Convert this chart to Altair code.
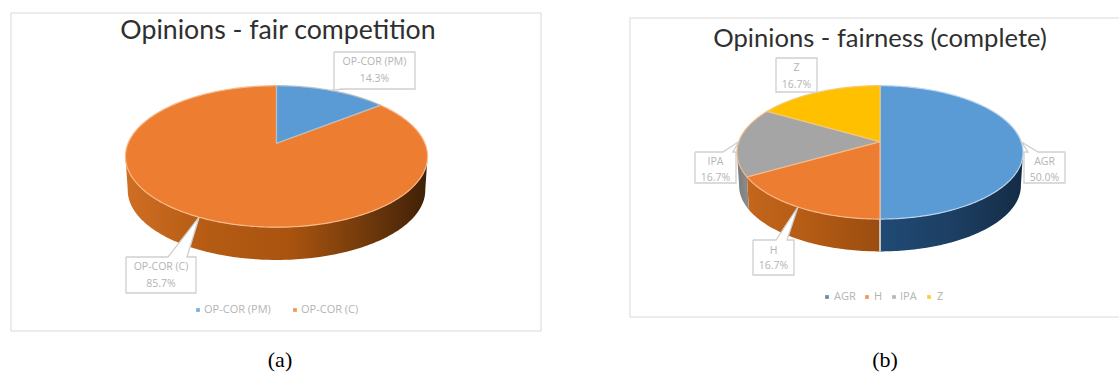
import math
import altair as alt
import pandas as pd

# Survey shares behind each pie
comp_labels = ["OP-COR (PM)", "OP-COR (C)"]
comp_values = [14.3, 85.7]
fair_labels = ["AGR", "H", "IPA", "Z"]
fair_values = [50.0, 16.7, 16.7, 16.6]
fair_texts = ["50.0%", "16.7%", "16.7%", "16.7%"]
comp_texts = ["14.3%", "85.7%"]

BLUE, ORANGE, GREY, GOLD = "#5b9bd5", "#ed7d31", "#a5a5a5", "#ffc000"
LABEL_GREY = "#b4b4b4"
BORDER = "#e6e6e6"
CALLOUT = "#cfcfcf"
TITLE_FONT = "Lato"

X = alt.X("x:Q", scale=alt.Scale(domain=[0, 1119], range=[0, 1119], nice=False, zero=False), axis=None)
Y = alt.Y("y:Q", scale=alt.Scale(domain=[0, 374], range=[0, 374], nice=False, zero=False), axis=None)


def gradient(stops):
    return alt.Gradient(
        gradient="linear", x1=0, y1=0, x2=1, y2=0,
        stops=[alt.GradientStop(offset=o, color=c) for o, c in stops],
    )


def polygon(points, **style):
    """A filled outline drawn in the order of its points."""
    frame = pd.DataFrame(
        [{"i": i, "x": p[0], "y": p[1]} for i, p in enumerate(points)]
    )
    return alt.Chart(frame).mark_line(interpolate="linear", **style).encode(
        x=X, y=Y, order="i:Q"
    )


def text(x, y, label, **style):
    frame = pd.DataFrame([{"x": x, "y": y, "label": label}])
    return alt.Chart(frame).mark_text(**style).encode(x=X, y=Y, text="label:N")


class Pie:
    """Tilted pie: a circle seen in perspective, with a rim of fixed depth."""

    def __init__(self, cx, cy, rx, ry, k, depth):
        self.cx, self.cy, self.rx, self.ry, self.k, self.depth = cx, cy, rx, ry, k, depth

    def rim(self, deg, low=False):
        t = math.radians(deg)
        u, v = math.sin(t), math.cos(t)
        w = 1 + self.k * v
        shrink = 0.985 if low else 1.0
        x = self.cx + self.rx * shrink * u / w
        y = self.cy - self.ry * shrink * v / w
        return (x, y + self.depth) if low else (x, y)

    def sweep(self, a, b):
        n = max(2, int(abs(b - a)) + 1)
        return [a + (b - a) * i / (n - 1) for i in range(n)]

    def edges(self):
        angles = [i * 0.5 for i in range(0, 721)]
        xs = [self.rim(a)[0] for a in angles]
        return angles[xs.index(max(xs))], angles[xs.index(min(xs))]

    def wall(self, a, b, fill):
        right, left = self.edges()
        a, b = max(a, right), min(b, left)
        if b <= a:
            return []
        top = [self.rim(t) for t in self.sweep(a, b)]
        low = [self.rim(t, True) for t in self.sweep(b, a)]
        return [polygon(top + low, fill=fill, strokeWidth=0, stroke="transparent")]

    def sector(self, a, b, fill, edge):
        pts = [(self.cx, self.cy)] + [self.rim(t) for t in self.sweep(a, b)] + [(self.cx, self.cy)]
        return polygon(pts, fill=fill, stroke=edge, strokeWidth=1.2)

    def mid(self, a, b):
        return self.rim((a + b) / 2)


def spans(values):
    total = sum(values)
    out, run = [], 0.0
    for v in values:
        out.append((run, run + v / total * 360))
        run += v / total * 360
    return out


def callout(box, tip, base, side, lines, size=10.5):
    """Data-label box with a pointer running out to the slice rim."""
    x0, y0, x1, y1 = box
    if side == "top":
        pts = [(x0, y0), (base[0], y0), tip, (base[1], y0), (x1, y0), (x1, y1), (x0, y1), (x0, y0)]
    else:
        pts = [(x0, y0), (x1, y0), (x1, y1), (base[1], y1), tip, (base[0], y1), (x0, y1), (x0, y0)]
    layers = [polygon(pts, fill="white", stroke=CALLOUT, strokeWidth=1.3)]
    mid = (x0 + x1) / 2
    for (line, ly) in lines:
        layers.append(text(mid, ly, line, fontSize=size, color=LABEL_GREY, font="Open Sans", align="center", baseline="middle"))
    return layers


def legend(y, entries):
    layers = []
    for mx, tx, label, colour in entries:
        marker = pd.DataFrame([{"x": mx, "y": y}])
        layers.append(
            alt.Chart(marker).mark_point(shape="square", filled=True, size=14, color=colour, opacity=0.8).encode(x=X, y=Y)
        )
        layers.append(text(tx, y, label, fontSize=11, color=LABEL_GREY, font="Open Sans", align="left", baseline="middle"))
    return layers


def frame(x0, y0, x1, y1):
    df = pd.DataFrame([{"x": x0, "y": y0, "x2": x1, "y2": y1}])
    return alt.Chart(df).mark_rect(fill="white", stroke=BORDER, strokeWidth=1.5).encode(x=X, y=Y, x2="x2:Q", y2="y2:Q")


layers = []

# Left chart: fair competition
layers.append(frame(11, 13, 541, 331))
layers.append(text(278, 31, "Opinions - fair competition", fontSize=26.7, font=TITLE_FONT, color="#2f2f2f", align="center", baseline="middle"))

pie_a = Pie(276.5, 143.3, 148.4, 68.3, 0.186, 34)
(pm_a, pm_b), (c_a, c_b) = spans(comp_values)
layers += pie_a.wall(c_a, c_b, gradient([(0, "#cf6f24"), (0.25, "#b65c14"), (0.55, "#a8530f"), (0.8, "#70390b"), (1, "#3f2007")]))
layers.append(pie_a.sector(c_a, c_b, ORANGE, "#f7b98a"))
layers.append(pie_a.sector(pm_a, pm_b, BLUE, "#b9bfc4"))
layers += callout((334, 52, 415, 89), pie_a.mid(pm_a, pm_b), (334, 342), "bottom",
                  [(comp_labels[0], 62), (comp_texts[0], 79)])
layers += callout((126, 257, 196, 293), pie_a.mid(c_a, c_b), (168, 187), "top",
                  [(comp_labels[1], 267), (comp_texts[1], 284)])
layers += legend(310, [(198, 204, comp_labels[0], BLUE), (295, 301, comp_labels[1], ORANGE)])
layers.append(text(280, 360, "(a)", fontSize=22, font="Liberation Serif", color="black", align="center", baseline="middle"))

# Right chart: fairness (complete)
layers.append(frame(630, 18, 1130, 317))
layers.append(text(880, 39, "Opinions - fairness (complete)", fontSize=25.6, font=TITLE_FONT, color="#2f2f2f", align="center", baseline="middle"))

pie_b = Pie(880, 141.7, 141.2, 65, 0.16, 33.5)
fair_spans = spans(fair_values)
wall_fills = [
    gradient([(0, "#1f4a75"), (0.5, "#1d3f63"), (1, "#142c46")]),
    gradient([(0, "#c4661c"), (0.5, "#b35a14"), (1, "#9a4d10")]),
    gradient([(0, "#7b7b7b"), (1, "#8d8d8d")]),
]
for (a, b), fill in zip(fair_spans[:3], wall_fills):
    layers += pie_b.wall(a, b, fill)
for (a, b), colour, edge in zip(fair_spans, [BLUE, ORANGE, GREY, GOLD], ["#b8d4ee", "#f7b98a", "#f2b98a", "#f2c777"]):
    layers.append(pie_b.sector(a, b, colour, edge))
# Seam where the two halves meet on the rim
layers.append(polygon([pie_b.rim(180), pie_b.rim(180, True)], stroke="#c9c2bb", strokeWidth=2))

layers += callout((776, 58, 817, 92), pie_b.mid(*fair_spans[3]), (798, 816), "bottom",
                  [(fair_labels[3], 68), (fair_texts[3], 85)])
layers += callout((695, 152, 736, 183), pie_b.mid(*fair_spans[2]), (723, 733), "top",
                  [(fair_labels[2], 162), (fair_texts[2], 178)])
layers += callout((1024, 152, 1065, 183), pie_b.mid(*fair_spans[0]), (1028, 1038), "top",
                  [(fair_labels[0], 162), (fair_texts[0], 178)])
layers += callout((753, 240, 794, 275), pie_b.mid(*fair_spans[1]), (776, 787), "top",
                  [(fair_labels[1], 251), (fair_texts[1], 266)])
layers += legend(297, [(827, 834, fair_labels[0], "#3f6f9f"), (867, 874, fair_labels[1], ORANGE),
                       (894, 900, fair_labels[2], GREY), (929, 937, fair_labels[3], GOLD)])
layers.append(text(885, 360, "(b)", fontSize=22, font="Liberation Serif", color="black", align="center", baseline="middle"))

chart = alt.layer(*layers).properties(
    width=1119, height=374, padding=0, autosize=alt.AutoSizeParams(type="none"),
    background="white",
).configure_view(stroke=None)

chart.save("out.html", embed_options={"renderer": "svg", "actions": False})
